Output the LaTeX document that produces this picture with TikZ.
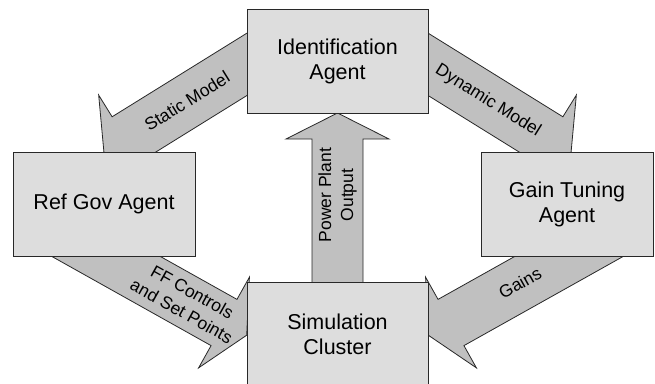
\documentclass[tikz,border=0pt]{standalone}
\usepackage{fontspec}
\setmainfont{Liberation Sans}
\usetikzlibrary{calc}
\pgfdeclarelayer{background}
\pgfsetlayers{background,main}
\definecolor{boxfill}{RGB}{221,221,221}
\definecolor{arrowfill}{RGB}{192,192,192}
\definecolor{edgecol}{RGB}{40,40,40}
\newcommand\blockarrow[5]{%
  \coordinate (N) at ($(#2)!#5!(#1)$);
  \draw[arrowbody] ($(#1)!#3!90:(#2)$) -- ($(N)!#3!-90:(#1)$) -- ($(N)!#4!-90:(#1)$)
    -- (#2) -- ($(N)!#4!90:(#1)$) -- ($(N)!#3!90:(#1)$) -- ($(#1)!#3!-90:(#2)$) -- cycle;}
\tikzset{
  agentbox/.style={draw=edgecol, line width=0.8pt, fill=boxfill, align=center,
    font=\fontsize{21.5}{25}\selectfont, inner sep=0pt, minimum height=104pt},
  arrowbody/.style={draw=edgecol, line width=0.8pt, fill=arrowfill, line join=miter},
  arrowlabel/.style={align=center, font=\fontsize{17.5}{22}\selectfont, inner sep=0pt}
}
\begin{document}
\begin{tikzpicture}[x=1pt,y=-1pt]
\useasboundingbox (0,0) rectangle (655,383);
\clip (0,0) rectangle (655,383);
% boxes
\node[agentbox, minimum width=181pt] (ident) at (337.5,61) {Identification\\Agent};
\node[agentbox, minimum width=182pt] (refgov) at (104,204) {Ref Gov Agent};
\node[agentbox, minimum width=172pt] (gain) at (567,204) {Gain Tuning\\Agent};
\node[agentbox, minimum width=181pt] (sim) at (337.5,334) {Simulation\\Cluster};
% arrow end points
\coordinate (smtail) at (290,37.6);
\coordinate (smtip) at (104,153);
\coordinate (dmtail) at (385,37.6);
\coordinate (dmtip) at (571,153);
\coordinate (fftail) at (49.4,224.7);
\coordinate (fftip) at (246.7,335.2);
\coordinate (gntail) at (625.6,224.7);
\coordinate (gntip) at (428.3,335.2);
\coordinate (pptail) at (337.5,300);
\coordinate (pptip) at (337.5,113);
\begin{pgfonlayer}{background}
\blockarrow{smtail}{smtip}{26.5pt}{52pt}{26pt}
\blockarrow{dmtail}{dmtip}{26.5pt}{52pt}{26pt}
\blockarrow{fftail}{fftip}{26.5pt}{52pt}{26pt}
\blockarrow{gntail}{gntip}{26.5pt}{52pt}{26pt}
\blockarrow{pptail}{pptip}{25.5pt}{51.5pt}{26pt}
\end{pgfonlayer}
% labels
\node[arrowlabel, rotate=31.9] (smlabel) at (187,101) {Static Model};
\node[arrowlabel, rotate=-31.9] (dmlabel) at (488,101) {Dynamic Model};
\node[arrowlabel, rotate=-29.3] (fflabel) at (187,301.5) {FF Controls\\and Set Points};
\node[arrowlabel, rotate=29.3] (gnlabel) at (520,283) {Gains};
\node[arrowlabel, rotate=90] (pplabel) at (337.5,195) {Power Plant\\Output};
\end{tikzpicture}
\end{document}
